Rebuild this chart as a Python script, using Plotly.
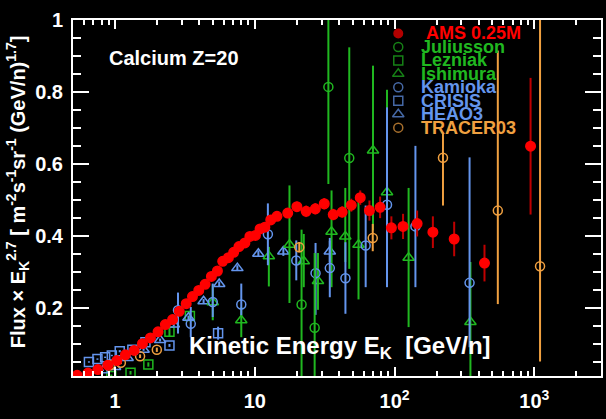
import math
import plotly.graph_objects as go

# ---------------- data: Flux x E^2.7 for Calcium ----------------
# AMS 0.25M
ams_e = [0.535, 0.64, 0.753, 0.888, 1.03, 1.186, 1.37, 1.57, 1.79, 2.03,
         2.29, 2.58, 2.88, 3.23, 3.58, 3.97, 4.41, 4.89, 5.40, 5.89,
         6.47, 7.06, 7.70, 8.49, 9.22, 10.1, 10.9, 11.8, 13.0, 14.4,
         17.2, 20.0, 23.3, 27.1, 31.4, 36.4, 42.2, 49.0, 56.8, 66.1,
         78.8, 94.9, 115, 145, 188, 267, 440, 940]
ams_f = [0.012, 0.018, 0.028, 0.040, 0.053, 0.069, 0.081, 0.100, 0.116, 0.133,
         0.153, 0.167, 0.190, 0.211, 0.231, 0.248, 0.265, 0.287, 0.302, 0.329,
         0.339, 0.354, 0.370, 0.380, 0.398, 0.401, 0.419, 0.424, 0.444, 0.454,
         0.463, 0.481, 0.468, 0.475, 0.489, 0.459, 0.466, 0.485, 0.506, 0.470,
         0.479, 0.422, 0.426, 0.434, 0.410, 0.391, 0.324, 0.649]
ams_err = [0.003] * 13 + [0.004] * 4 + [0.006] * 5 + [0.009] * 6 + [0.012] * 2 \
    + [0.014] * 2 + [0.016] * 5 + [0.018, 0.020, 0.028, 0.030, 0.032, 0.035,
                                   0.036, 0.044, 0.048, 0.051, 0.190]

# Juliusson
jul_e = [21.6, 26.8, 33.6, 47.4]
jul_f = [0.209, 0.144, 0.814, 0.616]
jul_up = [0.208, 0.208, 0.300, 0.308]
jul_dn = [0.205, 0.140, 0.270, 0.308]

# Lezniak
lez_e = [0.94, 1.29, 1.73, 2.45, 3.43]
lez_f = [0.010, 0.019, 0.042, 0.133, 0.177]
lez_err = [0.004, 0.005, 0.006, 0.014, 0.012]

# Ishimura
ish_e = [5.0, 8.0, 12.6, 17.7, 22.4, 28.3, 35.4, 44.4, 55.2, 70.1, 88.3, 126, 349]
ish_f = [0.215, 0.165, 0.343, 0.375, 0.329, 0.274, 0.411, 0.398, 0.375, 0.637,
         0.521, 0.339, 0.160]
ish_up = [0.050, 0.037, 0.026, 0.165, 0.076, 0.078, 0.115, 0.135, 0.132, 0.236,
          0.285, 0.194, 0.167]
ish_dn = [0.050, 0.047, 0.084, 0.162, 0.072, 0.080, 0.154, 0.071, 0.152, 0.222,
          0.254, 0.193, 0.160]

# Kamioka
kam_e = [2.82, 3.48, 5.0, 8.0, 12.4, 19.8, 27.2, 34.4, 44.5, 62.1, 88.3, 141, 344]
kam_f = [0.193, 0.155, 0.216, 0.209, 0.404, 0.331, 0.296, 0.310, 0.282, 0.373,
         0.486, 0.426, 0.269]
kam_up = [0.049, 0.047, 0.051, 0.058, 0.086, 0.056, 0.084, 0.084, 0.100, 0.111,
          0.271, 0.224, 0.349]
kam_dn = [0.065, 0.037, 0.042, 0.030, 0.086, 0.055, 0.116, 0.081, 0.099, 0.116,
          0.229, 0.169, 0.179]

# CRISIS
cri_e = [0.65, 0.748, 0.849, 0.948, 1.08, 1.33, 1.65, 2.45, 5.46]
cri_f = [0.049, 0.057, 0.062, 0.067, 0.079, 0.083, 0.104, 0.095, 0.129]
cri_err = [0.002, 0.002, 0.002, 0.002, 0.003, 0.003, 0.003, 0.004, 0.018]

# HEAO3
hea_e = [0.82, 1.0, 1.23, 1.6, 2.1, 2.63, 3.35, 4.3, 5.56, 7.5, 10.6, 16.0, 34.4]
hea_f = [0.026, 0.035, 0.060, 0.083, 0.110, 0.153, 0.172, 0.218, 0.266, 0.310,
         0.350, 0.356, 0.356]
hea_err = [0.002, 0.002, 0.003, 0.003, 0.004, 0.005, 0.006, 0.006, 0.007, 0.008,
           0.009, 0.012, 0.030]

# TRACER03
tra_e = [0.92, 1.10, 1.51, 1.99, 20.8, 69.8, 222, 548, 1099]
tra_f = [0.040, 0.047, 0.065, 0.083, 0.368, 0.394, 0.617, 0.470, 0.315]
tra_up = [0.004, 0.004, 0.005, 0.006, 0.014, 0.039, 0.070, 0.445, 0.750]
tra_dn = [0.004, 0.004, 0.005, 0.006, 0.014, 0.037, 0.133, 0.260, 0.265]

# legend entries
leg_names = ["AMS 0.25M", "Juliusson", "Lezniak", "Ishimura",
             "Kamioka", "CRISIS", "HEAO3", "TRACER03"]

# ---------------- styling ----------------
RED = "#ff0000"
DARKRED = "#c00000"
GREEN = "#20b820"
BLUE = "#6495ed"
ORANGE = "#f0a040"
FONT = "Liberation Sans, Arial, Helvetica, sans-serif"

leg_symbols = ["circle", "circle-open", "square-open", "triangle-up-open",
               "circle-open", "square-open", "triangle-up-open", "circle-open"]
leg_colors = [RED, GREEN, GREEN, GREEN, BLUE, BLUE, BLUE, ORANGE]
leg_sizes = [8.5, 9, 9, 10, 9, 9, 10, 9]

W, H = 606, 419
L, R, T, B = 73, 603, 20, 376


def px_x(px):
    return (px - L) / (R - L)


def px_y(py):
    return (B - py) / (B - T)


fig = go.Figure()


def add_set(x, y, up, dn, symbol, color, size, barcolor=None):
    fig.add_trace(go.Scatter(
        x=x, y=y, mode="markers",
        marker=dict(symbol=symbol, size=size, color=color,
                    line=dict(color=color, width=1.5)),
        error_y=dict(type="data", symmetric=False, array=up, arrayminus=dn,
                     color=barcolor or color, thickness=2, width=0),
        showlegend=False, hoverinfo="x+y"))


add_set(lez_e, lez_f, lez_err, lez_err, "square-open", GREEN, 9)
add_set(cri_e, cri_f, cri_err, cri_err, "square-open", BLUE, 9)
add_set(hea_e, hea_f, hea_err, hea_err, "triangle-up-open", BLUE, 10)
add_set(ish_e, ish_f, ish_up, ish_dn, "triangle-up-open", GREEN, 10)
add_set(kam_e, kam_f, kam_up, kam_dn, "circle-open", BLUE, 9)
add_set(jul_e, jul_f, jul_up, jul_dn, "circle-open", GREEN, 9)
add_set(tra_e, tra_f, tra_up, tra_dn, "circle-open", ORANGE, 9)
add_set(ams_e, ams_f, ams_err, ams_err, "circle", RED, 9.5, barcolor=DARKRED)

# legend block drawn on an overlay axis in plot-fraction units
row0, step = 33.5, 13.45
rows = [px_y(row0 + i * step) for i in range(len(leg_names))]
fig.add_trace(go.Scatter(
    x=[px_x(399.5)] * len(leg_names), y=rows, xaxis="x2", yaxis="y2",
    mode="markers", showlegend=False, hoverinfo="skip",
    marker=dict(symbol=leg_symbols, size=leg_sizes, color=leg_colors,
                line=dict(color=leg_colors, width=1.5))))

annotations = []
for i, (name, col) in enumerate(zip(leg_names, leg_colors)):
    x0 = 425 if i == 0 else 420
    annotations.append(dict(
        text=name, x=px_x(x0), y=rows[i], xref="paper", yref="paper",
        xanchor="left", yanchor="middle", showarrow=False,
        font=dict(family=FONT, size=18, color=col, weight="bold")))

annotations.append(dict(
    text="Calcium Z=20", x=px_x(107), y=px_y(58), xref="paper", yref="paper",
    xanchor="left", yanchor="middle", showarrow=False,
    font=dict(family=FONT, size=20, color="white", weight="bold")))

annotations.append(dict(
    text="Kinetic Energy E<sub>K</sub>  [GeV/n]", x=px_x(187), y=px_y(347),
    xref="paper", yref="paper", xanchor="left", yanchor="middle",
    showarrow=False,
    font=dict(family=FONT, size=24, color="white", weight="bold")))

annotations.append(dict(
    text="Flux × E<sub>K</sub><sup>2.7</sup> [ m<sup>-2</sup>s<sup>-1</sup>sr<sup>-1</sup>"
         " (GeV/n)<sup>1.7</sup>]",
    x=px_x(18), y=px_y(192), xref="paper", yref="paper",
    xanchor="center", yanchor="middle", textangle=-90, showarrow=False,
    font=dict(family=FONT, size=20, color="white", weight="bold")))

tick_font = dict(family=FONT, size=20, color="white", weight="bold")

fig.update_layout(
    width=W, height=H,
    margin=dict(l=L, r=W - R, t=T, b=H - B),
    paper_bgcolor="black", plot_bgcolor="black",
    showlegend=False,
    annotations=annotations,
    xaxis=dict(
        type="log", range=[math.log10(0.5), math.log10(3000)],
        showgrid=False, zeroline=False,
        showline=True, linecolor="white", linewidth=2, mirror="allticks",
        ticks="inside", ticklen=9, tickwidth=2, tickcolor="white",
        tickmode="array", tickvals=[1, 10, 100, 1000],
        ticktext=["1", "10", "10<sup>2</sup>", "10<sup>3</sup>"],
        tickfont=tick_font, ticklabelstandoff=6,
        minor=dict(ticks="inside", ticklen=5, tickwidth=2, tickcolor="white",
                   dtick="D1", showgrid=False),
    ),
    yaxis=dict(
        range=[0.01, 1.0], showgrid=False, zeroline=False,
        showline=True, linecolor="white", linewidth=2, mirror="allticks",
        ticks="inside", ticklen=16, tickwidth=2, tickcolor="white",
        tick0=0, dtick=0.2, tickfont=tick_font, ticklabelstandoff=4,
        minor=dict(ticks="inside", ticklen=8, tickwidth=2, tickcolor="white",
                   tick0=0, dtick=0.05, showgrid=False),
    ),
    xaxis2=dict(overlaying="x", range=[0, 1], visible=False, fixedrange=True),
    yaxis2=dict(overlaying="y", range=[0, 1], visible=False, fixedrange=True),
)

fig.write_html("out.html")
